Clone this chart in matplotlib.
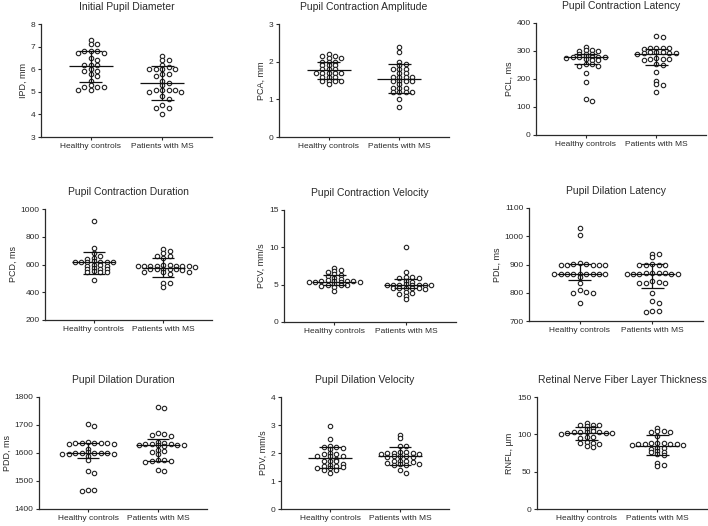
import numpy as np
import matplotlib
matplotlib.use("Agg")
import matplotlib.pyplot as plt

plt.rcParams['font.family'] = ['Liberation Sans', 'DejaVu Sans']

categories = ["Healthy controls", "Patients with MS"]

# ---- data ----
ipd_hc = [7.3, 7.1, 7.1, 6.8, 6.8, 6.8, 6.7, 6.7, 6.5, 6.4, 6.2, 6.2, 6.2, 6.0, 5.9, 5.9, 5.8,
          5.7, 5.5, 5.3, 5.2, 5.2, 5.2, 5.1, 5.1]
ipd_ms = [6.6, 6.4, 6.4, 6.2, 6.1, 6.0, 6.0, 6.0, 6.0, 5.8, 5.8, 5.7, 5.5, 5.4, 5.3, 5.1, 5.1,
          5.1, 5.1, 5.0, 5.0, 4.8, 4.7, 4.4, 4.3, 4.3, 4.0]
ipd_lines = [[6.12, 5.45, 6.82], [5.40, 4.65, 6.13]]

pca_hc = [2.2, 2.15, 2.15, 2.1, 2.1, 2.0, 2.0, 2.0, 1.9, 1.9, 1.9, 1.8, 1.8, 1.8, 1.7, 1.7, 1.7,
          1.7, 1.7, 1.6, 1.6, 1.6, 1.5, 1.5, 1.5, 1.5, 1.4]
pca_ms = [2.4, 2.25, 2.0, 1.95, 1.9, 1.8, 1.8, 1.8, 1.7, 1.7, 1.6, 1.6, 1.6, 1.6, 1.5, 1.5, 1.5,
          1.5, 1.4, 1.3, 1.3, 1.3, 1.2, 1.2, 1.2, 1.2, 1.0, 0.8]
pca_lines = [[1.77, 1.53, 1.99], [1.55, 1.18, 1.93]]

pcl_hc = [315, 304, 302, 300, 299, 291, 290, 289, 281, 280, 279, 278, 278, 277, 276, 270, 269,
          268, 254, 252, 248, 247, 222, 190, 127, 122]
pcl_ms = [352, 350, 312, 310, 310, 309, 308, 296, 295, 295, 294, 293, 292, 289, 274, 273, 272,
          272, 267, 252, 250, 225, 193, 182, 180, 155]
pcl_lines = [[278, 252, 291], [288, 250, 308]]

pcd_hc = [910, 720, 680, 660, 645, 640, 622, 620, 620, 618, 618, 615, 615, 595, 593, 591, 590,
          572, 570, 568, 566, 550, 548, 546, 545, 490]
pcd_ms = [715, 700, 680, 662, 660, 650, 600, 598, 590, 590, 589, 588, 588, 587, 586, 585, 567,
          566, 565, 565, 564, 563, 548, 547, 545, 530, 470, 466, 440]
pcd_lines = [[617, 533, 687], [578, 508, 646]]

pcv_hc = [7.2, 6.9, 6.8, 6.7, 6.4, 6.3, 6.2, 5.9, 5.8, 5.6, 5.5, 5.5, 5.5, 5.5, 5.4, 5.4, 5.4,
          5.3, 5.1, 5.0, 5.0, 4.9, 4.8, 4.7, 4.2]
pcv_ms = [10.0, 6.7, 6.0, 6.0, 5.9, 5.9, 5.5, 5.4, 5.1, 5.0, 5.0, 5.0, 5.0, 5.0, 4.9, 4.9, 4.6,
          4.6, 4.5, 4.5, 4.5, 4.4, 4.0, 3.9, 3.8, 3.5, 3.1]
pcv_lines = [[5.34, 5.0, 6.3], [4.98, 4.6, 5.7]]

pdl_hc = [1030, 1003, 907, 902, 901, 900, 900, 900, 899, 898, 868, 868, 868, 868, 868, 868, 868,
          868, 868, 855, 835, 808, 802, 800, 800, 765]
pdl_ms = [938, 936, 928, 902, 900, 900, 898, 897, 870, 870, 870, 869, 868, 868, 868, 867, 866,
          840, 838, 836, 835, 834, 798, 770, 765, 737, 735, 733]
pdl_lines = [[867, 846, 901], [867, 816, 901]]

pdd_hc = [1705, 1698, 1640, 1635, 1635, 1635, 1635, 1635, 1633, 1632, 1615, 1602, 1600, 1600,
          1600, 1600, 1600, 1598, 1598, 1595, 1590, 1575, 1535, 1528, 1468, 1467, 1463]
pdd_ms = [1765, 1762, 1670, 1668, 1665, 1662, 1638, 1635, 1632, 1632, 1632, 1630, 1630, 1630,
          1628, 1625, 1612, 1608, 1605, 1598, 1575, 1575, 1572, 1570, 1568, 1540, 1535]
pdd_lines = [[1600, 1583, 1634], [1628, 1573, 1651]]

pdv_hc = [2.95, 2.5, 2.25, 2.2, 2.2, 2.18, 2.15, 2.0, 1.95, 1.95, 1.9, 1.9, 1.9, 1.8, 1.7, 1.7,
          1.7, 1.6, 1.58, 1.55, 1.55, 1.5, 1.45, 1.45, 1.4, 1.38, 1.3]
pdv_ms = [2.65, 2.55, 2.25, 2.25, 2.05, 2.05, 2.0, 2.0, 2.0, 1.98, 1.95, 1.9, 1.9, 1.88, 1.85,
          1.85, 1.72, 1.7, 1.7, 1.68, 1.65, 1.6, 1.6, 1.58, 1.58, 1.4, 1.3]
pdv_lines = [[1.83, 1.45, 2.22], [1.89, 1.57, 2.22]]

rnfl_hc = [115, 113, 112, 112, 111, 108, 107, 104, 103, 103, 103, 103, 102, 102, 102, 101, 97,
           96, 95, 90, 89, 88, 87, 84, 83]
rnfl_ms = [108, 104, 104, 103, 103, 98, 88, 88, 88, 87, 87, 87, 87, 86, 86, 82, 82, 81, 78, 77,
           76, 73, 72, 62, 59, 58]
rnfl_lines = [[102, 93, 110], [85, 72, 99]]

titles = ["Initial Pupil Diameter", "Pupil Contraction Amplitude", "Pupil Contraction Latency",
          "Pupil Contraction Duration", "Pupil Contraction Velocity", "Pupil Dilation Latency",
          "Pupil Dilation Duration", "Pupil Dilation Velocity",
          "Retinal Nerve Fiber Layer Thickness"]
ylabels = ["IPD, mm", "PCA, mm", "PCL, ms", "PCD, ms", "PCV, mm/s", "PDL, ms", "PDD, ms",
           "PDV, mm/s", "RNFL, \u00b5m"]
yticks_list = [[3, 4, 5, 6, 7, 8], [0, 1, 2, 3], [0, 100, 200, 300, 400],
               [200, 400, 600, 800, 1000], [0, 5, 10, 15], [700, 800, 900, 1000, 1100],
               [1400, 1500, 1600, 1700, 1800], [0, 1, 2, 3, 4], [0, 50, 100, 150]]

groups = [(ipd_hc, ipd_ms, ipd_lines), (pca_hc, pca_ms, pca_lines), (pcl_hc, pcl_ms, pcl_lines),
          (pcd_hc, pcd_ms, pcd_lines), (pcv_hc, pcv_ms, pcv_lines), (pdl_hc, pdl_ms, pdl_lines),
          (pdd_hc, pdd_ms, pdd_lines), (pdv_hc, pdv_ms, pdv_lines),
          (rnfl_hc, rnfl_ms, rnfl_lines)]

# axes boxes in pixels: left, right, top, bottom
boxes = [(41, 212, 24, 137), (279, 449, 24, 137), (536, 706, 23, 135),
         (45, 212, 209, 320), (284, 456, 210, 322), (529, 703, 208, 321),
         (39, 207, 397, 509), (281, 449, 397, 509), (537, 707, 397, 509)]

W, H = 708, 526
fig = plt.figure(figsize=(W / 100, H / 100), dpi=100)
TXT = '#2a2a2a'


def swarm_x(ax, xc, vals, d=6.4, hv=2.8):
    """Prism-like scatter: nearest free horizontal slot, rows for close values."""
    vals = np.asarray(vals, float)
    pix = ax.transData.transform(np.column_stack([np.full(len(vals), xc), vals]))
    x0 = pix[0, 0]
    ys = pix[:, 1]
    order = np.argsort(-ys, kind='stable')
    placed = []
    xp = np.zeros(len(vals))
    steps = [0.0] + [s * k * d / 2 for k in range(1, 60) for s in (1, -1)]
    for i in order:
        for off in steps:
            if all(abs(off - px) >= d * 0.99 or abs(ys[i] - py) >= hv for px, py in placed):
                break
        placed.append((off, ys[i]))
        xp[i] = x0 + off
    back = ax.transData.inverted().transform(np.column_stack([xp, ys]))
    return back[:, 0]


for k in range(9):
    l, r, t, b = boxes[k]
    ax = fig.add_axes([l / W, 1 - b / H, (r - l) / W, (b - t) / H])
    yt = yticks_list[k]
    ax.set_xlim(0.3, 2.7)
    ax.set_ylim(yt[0], yt[-1])
    ax.set_yticks(yt)
    ax.set_xticks([1, 2])
    ax.set_xticklabels(categories)
    for s in ('top', 'right'):
        ax.spines[s].set_visible(False)
    for s in ('left', 'bottom'):
        ax.spines[s].set_color(TXT)
        ax.spines[s].set_linewidth(0.9)
    ax.tick_params(axis='both', direction='out', length=2.5, width=0.8, colors=TXT,
                   labelsize=6, pad=1.5)
    ax.set_ylabel(ylabels[k], fontsize=6.5, color=TXT, labelpad=2)
    ax.set_title(titles[k], fontsize=7.5, color=TXT, pad=10)
    hc, ms, lines = groups[k]
    for xc, vals, ln in ((1, hc, lines[0]), (2, ms, lines[1])):
        xs = swarm_x(ax, xc, vals)
        ax.plot(xs, vals, 'o', ms=3.2, mfc='white', mec='#222222', mew=0.8, zorder=3,
                clip_on=False)
        c, lo, hi = ln
        ax.hlines(c, xc - 0.31, xc + 0.31, colors='#111111', lw=0.9, zorder=4)
        ax.hlines([lo, hi], xc - 0.16, xc + 0.16, colors='#111111', lw=0.9, zorder=4)
        ax.vlines(xc, lo, hi, colors='#111111', lw=0.9, zorder=4)

fig.savefig('out.png', dpi=100)
